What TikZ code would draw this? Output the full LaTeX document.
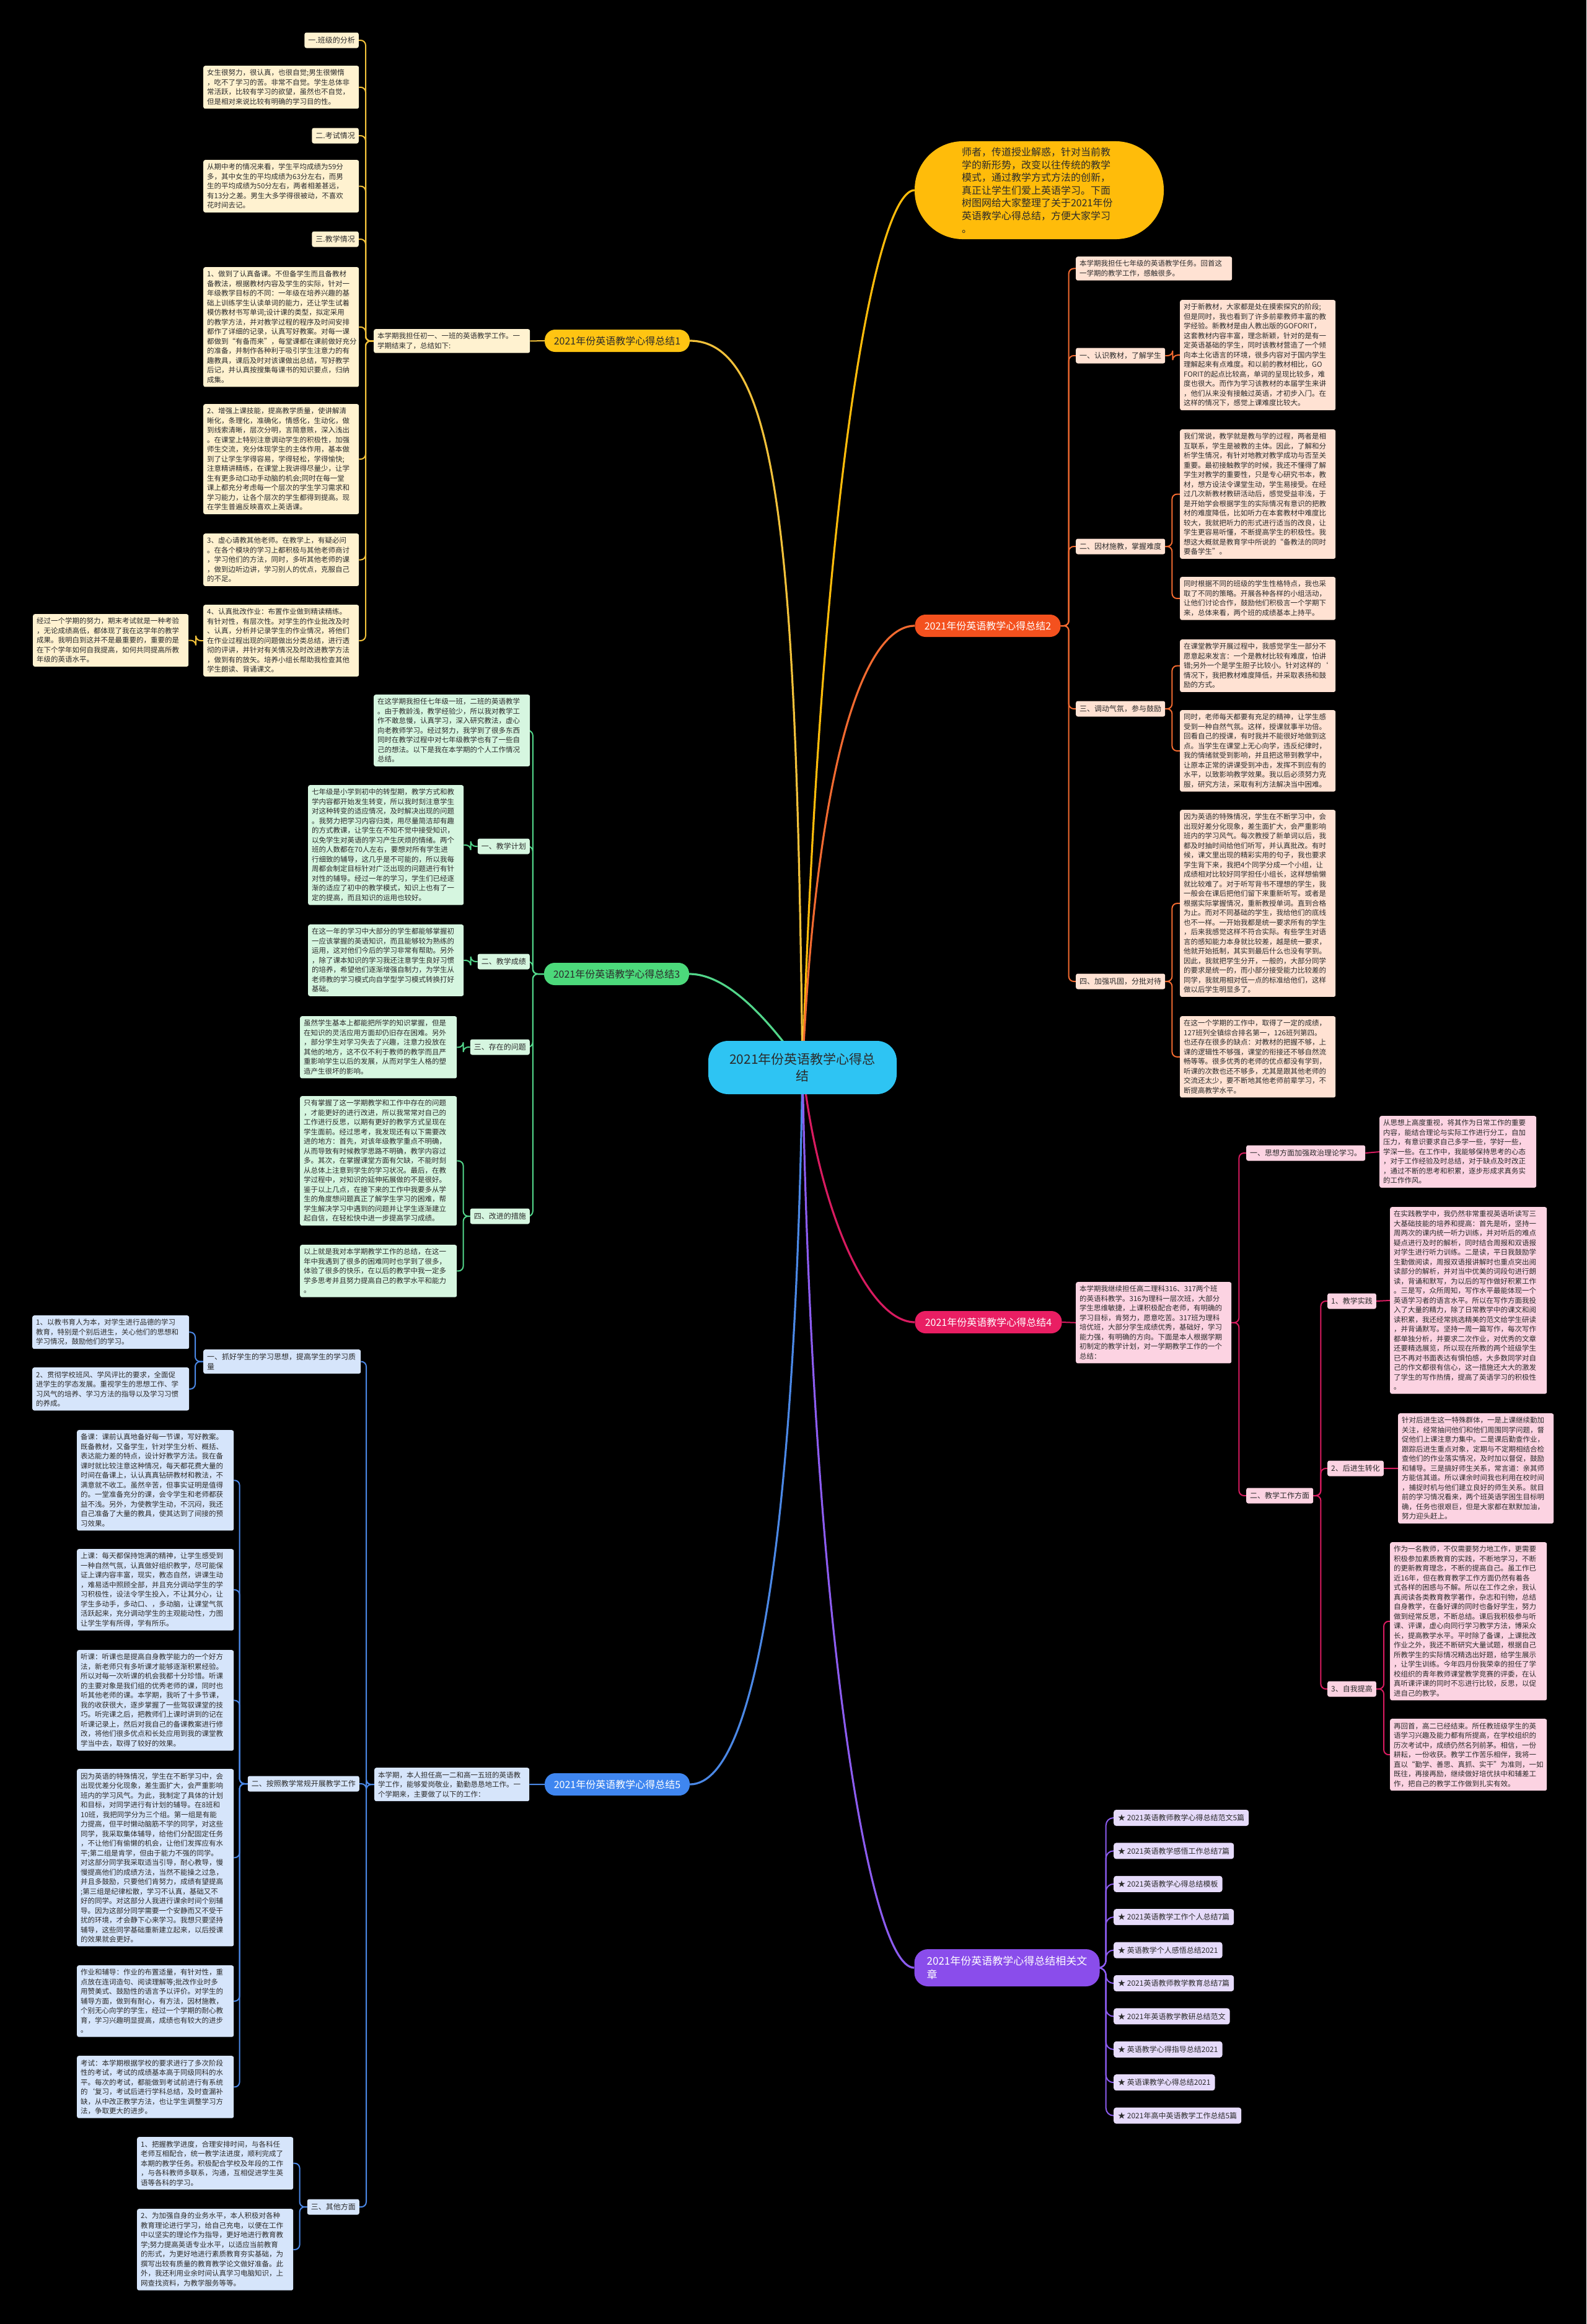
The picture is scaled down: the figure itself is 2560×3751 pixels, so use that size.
\documentclass[tikz,border=0pt]{standalone}
\usepackage{fontspec}
\setmainfont{Noto Sans CJK SC}
\usetikzlibrary{backgrounds}

\definecolor{inkdark}{HTML}{2B2B2B}
\definecolor{rootfill}{HTML}{2EC4F3}
\definecolor{introfill}{HTML}{FFBC0A}
\definecolor{yTopic}{HTML}{FFC412}
\definecolor{yLine}{HTML}{F2C13A}
\definecolor{yLeaf}{HTML}{FFF2D0}
\definecolor{oTopic}{HTML}{F4511E}
\definecolor{oLine}{HTML}{F26A30}
\definecolor{oLeaf}{HTML}{FFE2D3}
\definecolor{gTopic}{HTML}{4CD97B}
\definecolor{gLine}{HTML}{52D68A}
\definecolor{gLeaf}{HTML}{D6F6E0}
\definecolor{pTopic}{HTML}{E91E63}
\definecolor{pLine}{HTML}{D81B60}
\definecolor{pLeaf}{HTML}{FCD3E2}
\definecolor{bTopic}{HTML}{3F86F0}
\definecolor{bLine}{HTML}{4B88E6}
\definecolor{bLeaf}{HTML}{D6E5FB}
\definecolor{vTopic}{HTML}{8A4DEB}
\definecolor{vLine}{HTML}{8C5CF0}
\definecolor{vLeaf}{HTML}{E6DBFB}

\begin{document}
\begin{tikzpicture}[
    x=1pt, y=-1pt,
    root/.style={fill=rootfill, rounded corners=32pt, minimum width=304pt, minimum height=86pt, align=center, font=\fontsize{21}{27}\selectfont, text=inkdark},
    intro/.style={fill=introfill, rounded corners=78pt, text width=250pt, inner xsep=76pt, inner ysep=10pt, align=left, font=\fontsize{16}{20.6}\selectfont, text=inkdark},
    topic/.style={rounded corners=17pt, minimum width=234pt, minimum height=36pt, font=\fontsize{16}{20}\selectfont},
    leaf/.style={anchor=north west, rounded corners=3pt, inner xsep=6pt, inner ysep=6pt, text width=239pt, align=left, font=\fontsize{11.5}{15.5}\selectfont, text=inkdark},
    tag/.style={rounded corners=3pt, inner xsep=6pt, inner ysep=5pt, minimum height=25pt, font=\fontsize{12}{15}\selectfont, text=inkdark},
    item/.style={anchor=west, fill=vLeaf, rounded corners=4pt, inner xsep=7pt, minimum height=26pt, font=\fontsize{12}{15}\selectfont, text=inkdark},
    branch/.style={line width=3.2pt},
    link/.style={line width=2pt, rounded corners=8pt}
]
\useasboundingbox (0,0) rectangle (2560,3751);

% centre and intro
\node[root] (root) at (1295,1723) {2021年份英语教学心得总\\结};
\node[intro] (intro) at (1677,307) {师者，传道授业解惑，针对当前教\\学的新形势，改变以往传统的教学\\模式，通过教学方式方法的创新，\\真正让学生们爱上英语学习。下面\\树图网给大家整理了关于2021年份\\英语教学心得总结，方便大家学习\\。};

% branch 1
\node[topic, fill=yTopic, text=inkdark] (b1) at (996,550) {2021年份英语教学心得总结1};
\node[leaf, fill=yLeaf, text width=240pt] (b1c) at (603,531) {本学期我担任初一、一班的英语教学工作。一\\学期结束了，总结如下:};
\node[tag, fill=yLeaf, anchor=east] (b1s1) at (579,65) {一.班级的分析};
\node[leaf, fill=yLeaf] (b1t1) at (328,106) {女生很努力，很认真，也很自觉;男生很懒惰\\，吃不了学习的苦。非常不自觉。学生总体非\\常活跃，比较有学习的欲望，虽然也不自觉，\\但是相对来说比较有明确的学习目的性。};
\node[tag, fill=yLeaf, anchor=east] (b1s2) at (579,219) {二.考试情况};
\node[leaf, fill=yLeaf] (b1t2) at (328,258) {从期中考的情况来看，学生平均成绩为59分\\多，其中女生的平均成绩为63分左右，而男\\生的平均成绩为50分左右，两者相差甚远，\\有13分之差。男生大多学得很被动，不喜欢\\花时间去记。};
\node[tag, fill=yLeaf, anchor=east] (b1s3) at (579,386) {三.教学情况};
\node[leaf, fill=yLeaf] (b1t3) at (328,431) {1、做到了认真备课。不但备学生而且备教材\\备教法，根据教材内容及学生的实际，针对一\\年级教学目标的不同：一年级在培养兴趣的基\\础上训练学生认读单词的能力，还让学生试着\\模仿教材书写单词;设计课的类型，拟定采用\\的教学方法，并对教学过程的程序及时间安排\\都作了详细的记录，认真写好教案。对每一课\\都做到“有备而来”，每堂课都在课前做好充分\\的准备，并制作各种利于吸引学生注意力的有\\趣教具，课后及时对该课做出总结，写好教学\\后记，并认真按搜集每课书的知识要点，归纳\\成集。};
\node[leaf, fill=yLeaf] (b1t4) at (328,652) {2、增强上课技能，提高教学质量，使讲解清\\晰化，条理化，准确化，情感化，生动化，做\\到线索清晰，层次分明，言简意赅，深入浅出\\。在课堂上特别注意调动学生的积极性，加强\\师生交流，充分体现学生的主体作用，基本做\\到了让学生学得容易，学得轻松，学得愉快;\\注意精讲精练，在课堂上我讲得尽量少，让学\\生有更多动口动手动脑的机会;同时在每一堂\\课上都充分考虑每一个层次的学生学习需求和\\学习能力，让各个层次的学生都得到提高。现\\在学生普遍反映喜欢上英语课。};
\node[leaf, fill=yLeaf] (b1t5) at (328,861) {3、虚心请教其他老师。在教学上，有疑必问\\。在各个模块的学习上都积极与其他老师商讨\\，学习他们的方法，同时，多听其他老师的课\\，做到边听边讲，学习别人的优点，克服自己\\的不足。};
\node[leaf, fill=yLeaf] (b1t6) at (328,976) {4、认真批改作业：布置作业做到精读精练。\\有针对性，有层次性。对学生的作业批改及时\\、认真，分析并记录学生的作业情况，将他们\\在作业过程出现的问题做出分类总结，进行透\\彻的评讲，并针对有关情况及时改进教学方法\\，做到有的放矢。培养小组长帮助我检查其他\\学生朗读、背诵课文。};
\node[leaf, fill=yLeaf] (b1x) at (53,991) {经过一个学期的努力，期末考试就是一种考验\\，无论成绩高低，都体现了我在这学年的教学\\成果。我明白到这并不是最重要的，重要的是\\在下个学年如何自我提高，如何共同提高所教\\年级的英语水平。};

% branch 2
\node[topic, fill=oTopic, text=white, minimum width=235pt] (b2) at (1594,1010) {2021年份英语教学心得总结2};
\node[leaf, fill=oLeaf, text width=240pt] (b2a) at (1736,414) {本学期我担任七年级的英语教学任务。回首这\\一学期的教学工作，感触很多。};
\node[tag, fill=oLeaf, anchor=west] (b2b) at (1736,574) {一、认识教材，了解学生};
\node[leaf, fill=oLeaf] (b2b1) at (1904,484) {对于新教材，大家都是处在摸索探究的阶段;\\但是同时，我也看到了许多前辈教师丰富的教\\学经验。新教材是由人教出版的GOFORIT，\\这套教材内容丰富，理念新颖，针对的是有一\\定英语基础的学生，同时该教材营造了一个倾\\向本土化语言的环境，很多内容对于国内学生\\理解起来有点难度。和以前的教材相比，GO\\FORIT的起点比较高，单词的呈现比较多，难\\度也很大。而作为学习该教材的本届学生来讲\\，他们从来没有接触过英语，才初步入门。在\\这样的情况下，感觉上课难度比较大。};
\node[tag, fill=oLeaf, anchor=west] (b2c) at (1736,882) {二、因材施教，掌握难度};
\node[leaf, fill=oLeaf] (b2c1) at (1904,693) {我们常说，教学就是教与学的过程，两者是相\\互联系，学生是被教的主体。因此，了解和分\\析学生情况，有针对地教对教学成功与否至关\\重要。最初接触教学的时候，我还不懂得了解\\学生对教学的重要性，只是专心研究书本，教\\材，想方设法令课堂生动，学生易接受。在经\\过几次新教材教研活动后，感觉受益非浅，于\\是开始学会根据学生的实际情况有意识的把教\\材的难度降低，比如听力在本套教材中难度比\\较大，我就把听力的形式进行适当的改良，让\\学生更容易听懂，不断提高学生的积极性。我\\想这大概就是教育学中所说的“备教法的同时\\要备学生”。};
\node[leaf, fill=oLeaf] (b2c2) at (1904,931) {同时根据不同的班级的学生性格特点，我也采\\取了不同的策略。开展各种各样的小组活动，\\让他们讨论合作，鼓励他们积极言一个学期下\\来，总体来看，两个班的成绩基本上持平。};
\node[tag, fill=oLeaf, anchor=west] (b2d) at (1736,1144) {三、调动气氛，参与鼓励};
\node[leaf, fill=oLeaf] (b2d1) at (1904,1032) {在课堂教学开展过程中，我感觉学生一部分不\\愿意起来发言：一个是教材比较有难度，怕讲\\错;另外一个是学生胆子比较小。针对这样的`\\情况下，我把教材难度降低，并采取表扬和鼓\\励的方式。};
\node[leaf, fill=oLeaf] (b2d2) at (1904,1146) {同时，老师每天都要有充足的精神，让学生感\\受到一种自然气氛。这样，授课就事半功倍。\\回看自己的授课，有时我并不能很好地做到这\\点。当学生在课堂上无心向学，违反纪律时，\\我的情绪就受到影响，并且把这带到教学中，\\让原本正常的讲课受到冲击，发挥不到应有的\\水平，以致影响教学效果。我以后必须努力克\\服，研究方法，采取有利方法解决当中困难。};
\node[tag, fill=oLeaf, anchor=west] (b2e) at (1736,1584) {四、加强巩固，分批对待};
\node[leaf, fill=oLeaf] (b2e1) at (1904,1307) {因为英语的特殊情况，学生在不断学习中，会\\出现好差分化现象，差生面扩大，会严重影响\\班内的学习风气。每次教授了新单词以后，我\\都及时抽时间给他们听写，并认真批改。有时\\候，课文里出现的精彩实用的句子，我也要求\\学生背下来，我把4个同学分成一个小组，让\\成绩相对比较好同学担任小组长，这样想偷懒\\就比较难了。对于听写背书不理想的学生，我\\一般会在课后把他们留下来重新听写。或者是\\根据实际掌握情况，重新教授单词。直到合格\\为止。而对不同基础的学生，我给他们的底线\\也不一样。一开始我都是统一要求所有的学生\\，后来我感觉这样不符合实际。有些学生对语\\言的感知能力本身就比较差，越是统一要求，\\他就开始抵制，其实到最后什么也没有学到。\\因此，我就把学生分开，一般的，大部分同学\\的要求是统一的，而小部分接受能力比较差的\\同学，我就用相对低一点的标准给他们，这样\\做以后学生明显多了。};
\node[leaf, fill=oLeaf] (b2e2) at (1904,1640) {在这一个学期的工作中，取得了一定的成绩，\\127班列全镇综合排名第一，126班列第四。\\也还存在很多的缺点：对教材的把握不够，上\\课的逻辑性不够强，课堂的衔接还不够自然流\\畅等等。很多优秀的老师的优点都没有学到，\\听课的次数也还不够多，尤其是跟其他老师的\\交流还太少，要不断地其他老师前辈学习，不\\断提高教学水平。};

% branch 3
\node[topic, fill=gTopic, text=inkdark] (b3) at (995,1572) {2021年份英语教学心得总结3};
\node[leaf, fill=gLeaf, text width=240pt] (b3a) at (603,1121) {在这学期我担任七年级一班，二班的英语教学\\。由于教龄浅，教学经验少，所以我对教学工\\作不敢怠慢，认真学习，深入研究教法，虚心\\向老教师学习。经过努力，我学到了很多东西\\同时在教学过程中对七年级教学也有了一些自\\己的想法。以下是我在本学期的个人工作情况\\总结。};
\node[tag, fill=gLeaf, anchor=east] (b3b) at (855,1366) {一、教学计划};
\node[leaf, fill=gLeaf] (b3b1) at (497,1267) {七年级是小学到初中的转型期，教学方式和教\\学内容都开始发生转变，所以我时刻注意学生\\对这种转变的适应情况，及时解决出现的问题\\。我努力把学习内容归类，用尽量简洁却有趣\\的方式教课，让学生在不知不觉中接受知识，\\以免学生对英语的学习产生厌烦的情绪。两个\\班的人数都在70人左右，要想对所有学生进\\行细致的辅导，这几乎是不可能的，所以我每\\周都会制定目标针对广泛出现的问题进行有针\\对性的辅导。经过一年的学习，学生们已经逐\\渐的适应了初中的教学模式，知识上也有了一\\定的提高，而且知识的运用也较好。};
\node[tag, fill=gLeaf, anchor=east] (b3c) at (855,1552) {二、教学成绩};
\node[leaf, fill=gLeaf] (b3c1) at (497,1492) {在这一年的学习中大部分的学生都能够掌握初\\一应该掌握的英语知识，而且能够较为熟练的\\运用，这对他们今后的学习非常有帮助。另外\\，除了课本知识的学习我还注意学生良好习惯\\的培养，希望他们逐渐增强自制力，为学生从\\老师教的学习模式向自学型学习模式转换打好\\基础。};
\node[tag, fill=gLeaf, anchor=east] (b3d) at (855,1690) {三、存在的问题};
\node[leaf, fill=gLeaf, text width=241pt] (b3d1) at (484,1640) {虽然学生基本上都能把所学的知识掌握，但是\\在知识的灵活应用方面却仍旧存在困难。另外\\，部分学生对学习失去了兴趣，注意力投放在\\其他的地方，这不仅不利于教师的教学而且严\\重影响学生以后的发展，从而对学生人格的塑\\造产生很坏的影响。};
\node[tag, fill=gLeaf, anchor=east] (b3e) at (855,1963) {四、改进的措施};
\node[leaf, fill=gLeaf, text width=241pt] (b3e1) at (484,1769) {只有掌握了这一学期教学和工作中存在的问题\\，才能更好的进行改进，所以我常常对自己的\\工作进行反思，以期有更好的教学方式呈现在\\学生面前。经过思考，我发现还有以下需要改\\进的地方：首先，对该年级教学重点不明确，\\从而导致有时候教学思路不明确，教学内容过\\多。其次，在掌握课堂方面有欠缺，不能时刻\\从总体上注意到学生的学习状况。最后，在教\\学过程中，对知识的延伸拓展做的不是很好。\\鉴于以上几点，在接下来的工作中我要多从学\\生的角度想问题真正了解学生学习的困难，帮\\学生解决学习中遇到的问题并让学生逐渐建立\\起自信，在轻松快中进一步提高学习成绩。};
\node[leaf, fill=gLeaf, text width=241pt] (b3e2) at (484,2009) {以上就是我对本学期教学工作的总结，在这一\\年中我遇到了很多的困难同时也学到了很多，\\体验了很多的快乐，在以后的教学中我一定多\\学多思考并且努力提高自己的教学水平和能力\\。};

% branch 4
\node[topic, fill=pTopic, text=white, minimum width=237pt] (b4) at (1595,2134) {2021年份英语教学心得总结4};
\node[leaf, fill=pLeaf] (b4a) at (1736,2069) {本学期我继续担任高二理科316、317两个班\\的英语科教学。316为理科一层次班，大部分\\学生思维敏捷，上课积极配合老师，有明确的\\学习目标，肯努力，愿意吃苦。317班为理科\\培优班，大部分学生成绩优秀，基础好，学习\\能力强，有明确的方向。下面是本人根据学期\\初制定的教学计划，对一学期教学工作的一个\\总结：};
\node[tag, fill=pLeaf, anchor=west] (b4b) at (2011,1861) {一、思想方面加强政治理论学习。};
\node[leaf, fill=pLeaf, text width=241pt] (b4b1) at (2226,1801) {从思想上高度重视，将其作为日常工作的重要\\内容，能结合理论与实际工作进行分工，自加\\压力，有意识要求自己多学一些，学好一些，\\学深一些。在工作中，我能够保持思考的心态\\，对于工作经验及时总结，对于缺点及时改正\\，通过不断的思考和积累，逐步形成求真务实\\的工作作风。};
\node[tag, fill=pLeaf, anchor=west] (b4c) at (2011,2414) {二、教学工作方面};
\node[tag, fill=pLeaf, anchor=west] (b4c1) at (2142,2100) {1、教学实践};
\node[leaf, fill=pLeaf, text width=241pt] (b4c1a) at (2243,1948) {在实践教学中，我仍然非常重视英语听读写三\\大基础技能的培养和提高：首先是听，坚持一\\周两次的课内统一听力训练，并对听后的难点\\疑点进行及时的解析，同时结合周报和双语报\\对学生进行听力训练。二是读，平日我鼓励学\\生勤做阅读，周报双语报讲解时也重点突出阅\\读部分的解析，并对当中优美的词段句进行朗\\读，背诵和默写，为以后的写作做好积累工作\\。三是写，众所周知，写作水平最能体现一个\\英语学习者的语言水平。所以在写作方面我投\\入了大量的精力，除了日常教学中的课文和阅\\读积累，我还经常挑选精美的范文给学生研读\\，并背诵默写。坚持一周一篇写作，每次写作\\都单独分析，并要求二次作业，对优秀的文章\\还要精选展览，所以现在所教的两个班级学生\\已不再对书面表达有惧怕感，大多数同学对自\\己的作文都很有信心，这一措施还大大的激发\\了学生的写作热情，提高了英语学习的积极性\\。};
\node[tag, fill=pLeaf, anchor=west] (b4c2) at (2142,2370) {2、后进生转化};
\node[leaf, fill=pLeaf] (b4c2a) at (2256,2281) {针对后进生这一特殊群体，一是上课继续勤加\\关注，经常抽问他们和他们周围同学问题，督\\促他们上课注意力集中。二是课后勤查作业，\\跟踪后进生重点对象，定期与不定期相结合检\\查他们的作业落实情况，及时加以督促，鼓励\\和辅导。三是搞好师生关系，常言道：亲其师\\方能信其道。所以课余时间我也利用在校时间\\，捕捉时机与他们建立良好的师生关系。就目\\前的学习情况看来，两个班英语学困生目标明\\确，任务也很艰巨，但是大家都在默默加油，\\努力迎头赶上。};
\node[tag, fill=pLeaf, anchor=west] (b4c3) at (2142,2726) {3、自我提高};
\node[leaf, fill=pLeaf, text width=241pt] (b4c3a) at (2243,2489) {作为一名教师，不仅需要努力地工作，更需要\\积极参加素质教育的实践，不断地学习，不断\\的更新教育理念，不断的提高自己。虽工作已\\近16年，但在教育教学工作方面仍然有着各\\式各样的困惑与不解。所以在工作之余，我认\\真阅读各类教育教学著作，杂志和刊物，总结\\自身教学，在备好课的同时也备好学生，努力\\做到经常反思，不断总结。课后我积极参与听\\课、评课，虚心向同行学习教学方法，博采众\\长，提高教学水平。平时除了备课，上课批改\\作业之外，我还不断研究大量试题，根据自己\\所教学生的实际情况精选出好题，给学生展示\\，让学生训练。今年四月份我荣幸的担任了学\\校组织的青年教师课堂教学竞赛的评委，在认\\真听课评课的同时不忘进行比较，反思，以促\\进自己的教学。};
\node[leaf, fill=pLeaf, text width=241pt] (b4c3b) at (2243,2774) {再回首，高二已经结束。所任教班级学生的英\\语学习兴趣及能力都有所提高，在学校组织的\\历次考试中，成绩仍然名列前茅。相信，一份\\耕耘，一份收获。教学工作苦乐相伴，我将一\\直以“勤学、善思、真抓、实干”为准则，一如\\既往，再接再励，继续做好培优扶中和辅差工\\作，把自己的教学工作做到扎实有效。};

% branch 5
\node[topic, fill=bTopic, text=white] (b5) at (996,2880) {2021年份英语教学心得总结5};
\node[leaf, fill=bLeaf, text width=238pt] (b5a) at (604,2853) {本学期，本人担任高一二和高一五班的英语教\\学工作，能够爱岗敬业，勤勤恳恳地工作。一\\个学期来，主要做了以下的工作：};
\node[leaf, fill=bLeaf, text width=242pt, font=\fontsize{12}{16}\selectfont] (b5b) at (328,2178) {一、抓好学生的学习思想，提高学生的学习质\\量};
\node[leaf, fill=bLeaf, text width=241pt] (b5b1) at (52,2123) {1、以教书育人为本，对学生进行品德的学习\\教育，特别是个别后进生，关心他们的思想和\\学习情况，鼓励他们的学习。};
\node[leaf, fill=bLeaf, text width=241pt] (b5b2) at (52,2207) {2、贯彻学校班风、学风评比的要求，全面促\\进学生的学态发展。重视学生的思想工作、学\\习风气的培养、学习方法的指导以及学习习惯\\的养成。};
\node[tag, fill=bLeaf, anchor=east] (b5c) at (580,2879) {二、按照教学常规开展教学工作};
\node[leaf, fill=bLeaf, text width=241pt] (b5c1) at (124,2308) {备课：课前认真地备好每一节课，写好教案。\\既备教材，又备学生，针对学生分析、概括、\\表达能力差的特点，设计好教学方法。我在备\\课时就比较注意这种情况，每天都花费大量的\\时间在备课上，认认真真钻研教材和教法，不\\满意就不收工。虽然辛苦，但事实证明是值得\\的。一堂准备充分的课，会令学生和老师都获\\益不浅。另外，为使教学生动，不沉闷，我还\\自己准备了大量的教具，使其达到了间接的预\\习效果。};
\node[leaf, fill=bLeaf, text width=241pt] (b5c2) at (124,2500) {上课：每天都保持饱满的精神，让学生感受到\\一种自然气氛，认真做好组织教学，尽可能保\\证上课内容丰富，现实，教态自然，讲课生动\\，难易适中照顾全部，并且充分调动学生的学\\习积极性，设法令学生投入，不让其分心，让\\学生多动手，多动口、，多动脑，让课堂气氛\\活跃起来，充分调动学生的主观能动性，力图\\让学生学有所得，学有所乐。};
\node[leaf, fill=bLeaf, text width=241pt] (b5c3) at (124,2663) {听课：听课也是提高自身教学能力的一个好方\\法，新老师只有多听课才能够逐渐积累经验。\\所以对每一次听课的机会我都十分珍惜。听课\\的主要对象是我们组的优秀老师的课，同时也\\听其他老师的课。本学期，我听了十多节课，\\我的收获很大，逐步掌握了一些驾驭课堂的技\\巧。听完课之后，把教师们上课时讲到的记在\\听课记录上，然后对我自己的备课教案进行修\\改，将他们很多优点和长处应用到我的课堂教\\学当中去，取得了较好的效果。};
\node[leaf, fill=bLeaf, text width=241pt] (b5c4) at (124,2855) {因为英语的特殊情况，学生在不断学习中，会\\出现优差分化现象，差生面扩大，会严重影响\\班内的学习风气。为此，我制定了具体的计划\\和目标，对同学进行有计划的辅导。在8班和\\10班，我把同学分为三个组。第一组是有能\\力提高，但平时懒动脑筋不学的同学，对这些\\同学，我采取集体辅导，给他们分配固定任务\\，不让他们有偷懒的机会，让他们发挥应有水\\平;第二组是肯学，但由于能力不强的同学。\\对这部分同学我采取适当引导，耐心教导，慢\\慢提高他们的成绩方法，当然不能操之过急，\\并且多鼓励，只要他们肯努力，成绩有望提高\\;第三组是纪律松散，学习不认真，基础又不\\好的同学。对这部分人我进行课余时间个别辅\\导。因为这部分同学需要一个安静而又不受干\\扰的环境，才会静下心来学习。我想只要坚持\\辅导，这些同学基础重新建立起来，以后授课\\的效果就会更好。};
\node[leaf, fill=bLeaf, text width=241pt] (b5c5) at (124,3172) {作业和辅导：作业的布置适量，有针对性，重\\点放在连词造句、阅读理解等;批改作业时多\\用赞美式、鼓励性的语言予以评价。对学生的\\辅导方面，做到有耐心，有方法，因材施教，\\个别无心向学的学生，经过一个学期的耐心教\\育，学习兴趣明显提高，成绩也有较大的进步\\。};
\node[leaf, fill=bLeaf, text width=241pt] (b5c6) at (124,3318) {考试：本学期根据学校的要求进行了多次阶段\\性的考试，考试的成绩基本高于同级同科的水\\平。每次的考试，都能做到考试前进行有系统\\的`复习，考试后进行学科总结，及时查漏补\\缺，从中改正教学方法，也让学生调整学习方\\法，争取更大的进步。};
\node[tag, fill=bLeaf, anchor=east] (b5d) at (580,3562) {三、其他方面};
\node[leaf, fill=bLeaf, text width=240pt] (b5d1) at (221,3449) {1、把握教学进度，合理安排时间，与各科任\\老师互相配合，统一教学法进度，顺利完成了\\本期的教学任务。积极配合学校及年段的工作\\，与各科教师多联系，沟通，互相促进学生英\\语等各科的学习。};
\node[leaf, fill=bLeaf, text width=240pt] (b5d2) at (221,3565) {2、为加强自身的业务水平，本人积极对各种\\教育理论进行学习，给自己充电，以便在工作\\中以坚实的理论作为指导，更好地进行教育教\\学;努力提高英语专业水平，以适应当前教育\\的形式，为更好地进行素质教育夯实基础，为\\撰写出较有质量的教育教学论文做好准备。此\\外，我还利用业余时间认真学习电脑知识，上\\网查找资料，为教学服务等等。};

% related articles
\node[topic, fill=vTopic, text=white, minimum width=299pt, minimum height=60pt, rounded corners=22pt, align=left, font=\fontsize{17}{22}\selectfont] (rel) at (1625,3176) {2021年份英语教学心得总结相关文\\章};
\foreach \t [count=\i from 0] in {2021英语教师教学心得总结范文5篇, 2021英语教学感悟工作总结7篇, 2021英语教学心得总结模板, 2021英语教学工作个人总结7篇, 英语教学个人感悟总结2021, 2021英语教师教学教育总结7篇, 2021年英语教学教研总结范文, 英语教学心得指导总结2021, 英语课教学心得总结2021, 2021年高中英语教学工作总结5篇}
    \node[item] (r\i) at (1797,{2934+\i*53.4}) {★ \t};

\begin{pgfonlayer}{background}
\fill[black] (0,0) rectangle (2560,3751);
% curves from the centre
\draw[branch, introfill] (root.center) .. controls (1330,700) and (1420,307) .. (intro.west);
\draw[branch, yLine] (root.center) .. controls (1285,900) and (1260,550) .. (b1.east);
\draw[branch, oLine] (root.center) .. controls (1320,1200) and (1400,1010) .. (b2.west);
\draw[branch, gLine] (root.center) .. controls (1250,1660) and (1180,1572) .. (b3.east);
\draw[branch, pLine] (root.center) .. controls (1320,1950) and (1400,2134) .. (b4.west);
\draw[branch, bLine] (root.center) .. controls (1285,2400) and (1230,2880) .. (b5.east);
\draw[branch, vLine] (root.center) .. controls (1310,2600) and (1400,3176) .. (rel.west);

% branch 1
\draw[link, yLine] (b1.west) -- (b1c.east);
\foreach \c in {b1s1,b1t1,b1s2,b1t2,b1s3,b1t3,b1t4,b1t5,b1t6}
    \draw[link, yLine] (b1c.west) -- ++(-13,0) |- (\c.east);
\draw[link, yLine] (b1t6.west) -- ++(-12,0) |- (b1x.east);

% branch 2
\foreach \c in {b2a,b2b,b2c,b2d,b2e}
    \draw[link, oLine] (b2.east) -- ++(13,0) |- (\c.west);
\draw[link, oLine] (b2b.east) -- ++(12,0) |- (b2b1.west);
\foreach \p/\c in {b2c/b2c1, b2c/b2c2, b2d/b2d1, b2d/b2d2, b2e/b2e1, b2e/b2e2}
    \draw[link, oLine] (\p.east) -- ++(11,0) |- (\c.west);

% branch 3
\foreach \c in {b3a,b3b,b3c,b3d,b3e}
    \draw[link, gLine] (b3.west) -- ++(-18,0) |- (\c.east);
\foreach \p/\c in {b3b/b3b1, b3c/b3c1, b3d/b3d1, b3e/b3e1, b3e/b3e2}
    \draw[link, gLine] (\p.west) -- ++(-11,0) |- (\c.east);

% branch 4
\draw[link, pLine] (b4.east) -- (b4a.west);
\foreach \c in {b4b,b4c}
    \draw[link, pLine] (b4a.east) -- ++(12,0) |- (\c.west);
\draw[link, pLine] (b4b.east) -- (b4b1.west);
\foreach \c in {b4c1,b4c2,b4c3}
    \draw[link, pLine] (b4c.east) -- ++(12,0) |- (\c.west);
\draw[link, pLine] (b4c1.east) -- (b4c1a.west);
\draw[link, pLine] (b4c2.east) -- (b4c2a.west);
\foreach \c in {b4c3a,b4c3b}
    \draw[link, pLine] (b4c3.east) -- ++(12,0) |- (\c.west);

% branch 5
\draw[link, bLine] (b5.west) -- (b5a.east);
\foreach \c in {b5b,b5c,b5d}
    \draw[link, bLine] (b5a.west) -- ++(-13,0) |- (\c.east);
\foreach \c in {b5b1,b5b2}
    \draw[link, bLine] (b5b.west) -- ++(-13,0) |- (\c.east);
\foreach \c in {b5c1,b5c2,b5c3,b5c4,b5c5,b5c6}
    \draw[link, bLine] (b5c.west) -- ++(-13,0) |- (\c.east);
\foreach \c in {b5d1,b5d2}
    \draw[link, bLine] (b5d.west) -- ++(-12,0) |- (\c.east);

% related
\foreach \i in {0,...,9}
    \draw[link, vLine, rounded corners=12pt] (rel.east) -- ++(10,0) |- (r\i.west);
\end{pgfonlayer}
\end{tikzpicture}
\end{document}
